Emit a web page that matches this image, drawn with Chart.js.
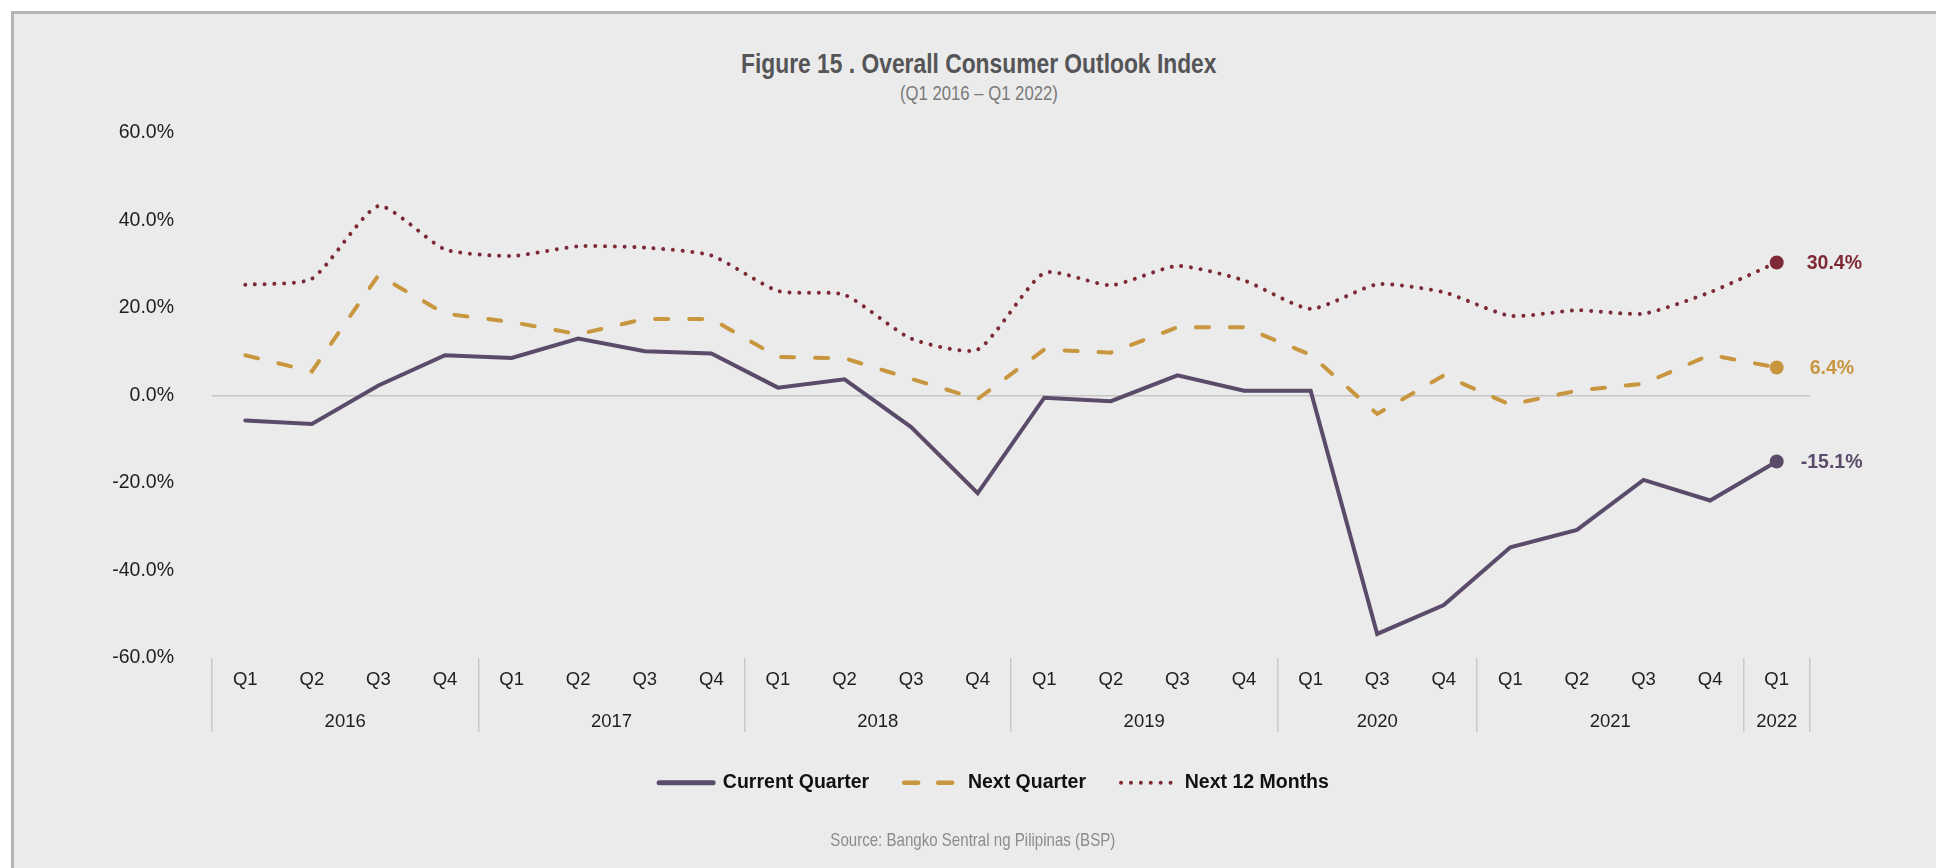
<!DOCTYPE html>
<html>
<head>
<meta charset="utf-8">
<script src="https://cdn.jsdelivr.net/npm/chart.js@4.4.1/dist/chart.umd.min.js"></script>
<style>
  html, body { margin: 0; padding: 0; background: #ffffff; }
  #wrap { position: relative; width: 1936px; height: 868px; overflow: hidden; }
  #frame { position: absolute; left: 11px; top: 11px; right: -10px; bottom: -10px;
           background: #EBEBEB; border-left: 3px solid #B4B4B4; border-top: 3px solid #B4B4B4; }
  #chart { position: absolute; left: 0; top: 0; }
  .txt { position: absolute; left: 0; width: 1958px; text-align: center; white-space: nowrap;
         font-family: "Liberation Sans", Arial, sans-serif; }
  .txt span { display: inline-block; transform: scaleX(0.815); transform-origin: 50% 50%; }
  #title { top: 47px; line-height: 34px; font-size: 28px; font-weight: bold; color: #555557; }
  #subtitle { top: 81px; line-height: 24px; font-size: 20.5px; color: #7A7A7A; }
  #source { top: 828px; line-height: 24px; font-size: 18.5px; color: #8C8C8C; width: 1946px; }
</style>
</head>
<body>
<div id="wrap">
  <div id="frame"></div>
  <div id="title" class="txt"><span>Figure 15 . Overall Consumer Outlook Index</span></div>
  <div id="subtitle" class="txt"><span>(Q1 2016 – Q1 2022)</span></div>
  <canvas id="chart" width="1936" height="868"></canvas>
  <div id="source" class="txt"><span>Source: Bangko Sentral ng Pilipinas (BSP)</span></div>
</div>
<script>
// ---- Data ----
const quarters = ['Q1','Q2','Q3','Q4','Q1','Q2','Q3','Q4','Q1','Q2','Q3','Q4','Q1','Q2','Q3','Q4','Q1','Q3','Q4','Q1','Q2','Q3','Q4','Q1'];
const years = ['2016','2017','2018','2019','2020','2021','2022'];
const yearSpans = [4, 4, 4, 4, 3, 4, 1];
const currentQuarter = [-5.7, -6.5, 2.3, 9.2, 8.6, 13.0, 10.1, 9.6, 1.8, 3.7, -7.2, -22.3, -0.5, -1.3, 4.6, 1.1, 1.1, -54.5, -47.9, -34.7, -30.7, -19.3, -24.0, -15.1];
const nextQuarter = [9.2, 5.5, 27.5, 18.7, 16.8, 14.0, 17.5, 17.5, 8.8, 8.5, 3.8, -0.8, 10.5, 9.8, 15.6, 15.6, 9.3, -4.2, 4.6, -2.1, 1.1, 2.7, 9.3, 6.4];
const next12Months = [25.3, 26.7, 43.3, 33.4, 31.9, 34.1, 33.8, 32.0, 23.9, 23.0, 13.0, 10.5, 28.0, 25.2, 29.6, 26.3, 19.8, 25.4, 23.6, 18.2, 19.5, 18.7, 23.6, 30.4];
const seriesNames = ['Current Quarter', 'Next Quarter', 'Next 12 Months'];

// derived helpers for the two-level axis
const yearCenters = [];
const yearBounds = [0];
let acc = 0;
yearSpans.forEach(s => { yearCenters.push(acc + (s - 1) / 2); acc += s; yearBounds.push(acc); });

const FONT = '"Liberation Sans", Arial, Helvetica, sans-serif';
const last = quarters.length - 1;
const colors = ['#5B4B6B', '#C8963F', '#7E2A36'];
const lineDashes = [[], [13, 21], [0.01, 9.7]];
const legendDashes = [[], [14, 20], [0.01, 9.9]];
const legendWidths = [5, 4.5, 4];
const labelOffsets = [24, 33, 30];

const endLabels = {
  id: 'endLabels',
  afterDatasetsDraw(chart) {
    const ctx = chart.ctx;
    chart.data.datasets.forEach((ds, i) => {
      const meta = chart.getDatasetMeta(i);
      const pt = meta.data[ds.data.length - 1];
      ctx.save();
      ctx.font = 'bold 19.5px ' + FONT;
      ctx.fillStyle = ds.borderColor;
      ctx.textBaseline = 'middle';
      ctx.textAlign = 'left';
      ctx.fillText(ds.data[ds.data.length - 1].toFixed(1) + '%', pt.x + labelOffsets[i], pt.y + 1);
      ctx.restore();
    });
  }
};

const lastPointRadius = c => (c.dataIndex === last ? 7 : 0);
const boundaryColor = c => (yearBounds.includes(c.index === undefined ? quarters.length : c.index) ? '#C9C9C9' : 'rgba(0,0,0,0)');

new Chart(document.getElementById('chart'), {
  type: 'line',
  data: {
    labels: quarters,
    datasets: [
      { label: seriesNames[0], data: currentQuarter, borderColor: colors[0], backgroundColor: colors[0],
        borderWidth: 4, borderDash: lineDashes[0], tension: 0, pointRadius: lastPointRadius,
        pointBackgroundColor: colors[0], pointBorderWidth: 0, borderCapStyle: 'round', borderJoinStyle: 'miter' },
      { label: seriesNames[1], data: nextQuarter, borderColor: colors[1], backgroundColor: colors[1],
        borderWidth: 4, borderDash: lineDashes[1], borderCapStyle: 'round', tension: 0,
        pointRadius: lastPointRadius, pointBackgroundColor: colors[1], pointBorderWidth: 0 },
      { label: seriesNames[2], data: next12Months, borderColor: colors[2], backgroundColor: colors[2],
        borderWidth: 4, borderDash: lineDashes[2], borderCapStyle: 'round', tension: 0.2,
        pointRadius: lastPointRadius, pointBackgroundColor: colors[2], pointBorderWidth: 0 }
    ]
  },
  options: {
    responsive: false,
    animation: false,
    devicePixelRatio: 1,
    layout: { padding: { top: 133, left: 100, right: 48, bottom: 65.5 } },
    plugins: {
      tooltip: { enabled: false },
      legend: {
        position: 'bottom',
        labels: {
          usePointStyle: true,
          pointStyle: 'line',
          pointStyleWidth: 54,
          padding: 35,
          color: '#111111',
          font: { family: FONT, size: 19.5, weight: 'bold' },
          generateLabels: chart => chart.data.datasets.map((ds, i) => ({
            text: ds.label,
            fillStyle: ds.borderColor,
            strokeStyle: ds.borderColor,
            fontColor: '#111111',
            lineWidth: legendWidths[i],
            lineDash: legendDashes[i],
            lineCap: 'round',
            pointStyle: 'line',
            hidden: false,
            datasetIndex: i
          }))
        }
      }
    },
    scales: {
      y: {
        min: -60, max: 60,
        ticks: { stepSize: 20, callback: v => v.toFixed(1) + '%', color: '#1E1E1E',
                 font: { family: FONT, size: 19.5 }, padding: 38 },
        grid: { drawTicks: false, lineWidth: 1.5,
                color: c => (c.tick && c.tick.value === 0 ? '#C6C6C6' : 'rgba(0,0,0,0)') },
        border: { display: false },
        afterFit: s => { s.width = 112; }
      },
      yRight: {
        type: 'linear', position: 'right', min: -60, max: 60,
        ticks: { display: false },
        grid: { display: false, drawTicks: false },
        border: { display: false },
        afterFit: s => { s.width = 78; }
      },
      x: {
        type: 'category',
        offset: true,
        weight: 0,
        grid: { offset: true, drawOnChartArea: false, drawTicks: true, tickLength: 74, lineWidth: 1.5,
                color: boundaryColor, tickColor: boundaryColor },
        border: { display: false },
        ticks: { autoSkip: false, maxRotation: 0, color: '#1E1E1E', font: { family: FONT, size: 18.5 }, padding: -63 },
        afterFit: s => { s.height = 40; }
      },
      x2: {
        type: 'linear',
        position: 'bottom',
        weight: 1,
        min: -0.5, max: quarters.length - 0.5,
        afterBuildTicks: s => { s.ticks = yearCenters.map(v => ({ value: v })); },
        ticks: { autoSkip: false, maxRotation: 0, color: '#1E1E1E', font: { family: FONT, size: 18.5 }, padding: 13,
                 callback: (v, i) => years[i] },
        grid: { display: false, drawTicks: false },
        border: { display: false },
        afterFit: s => { s.height = 40; }
      }
    }
  },
  plugins: [endLabels]
});
</script>
</body>
</html>
